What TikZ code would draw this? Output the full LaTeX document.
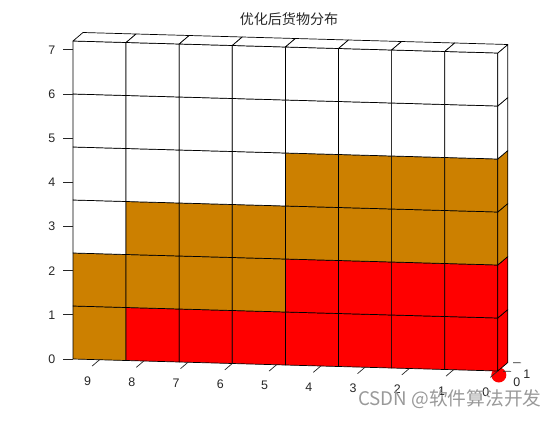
\documentclass[tikz,border=0pt]{standalone}
\usepackage{fontspec}
\setmainfont{Liberation Sans}
\newfontfamily\cjk{Noto Sans CJK SC}
\definecolor{cellr}{RGB}{255,0,0}
\definecolor{cellb}{RGB}{204,128,0}
\definecolor{cellw}{RGB}{255,255,255}
\begin{document}
\begin{tikzpicture}[x = {(1.593cm,-0.045cm)}, y = {(0.30cm,0.255cm)}, z = {(0cm,1.59cm)},
    line join = round,
    cell/.style = {draw = black, line width = 0.6pt},
    tick/.style = {draw = black!85, line width = 0.6pt},
    ticklabel/.style = {inner sep = 0pt, text = black!85, font = \fontsize{10.6}{12}\selectfont}]
            \useasboundingbox (-2.19cm,-1.83cm) rectangle (14.61cm,10.77cm);
            \fill[cellr] (8,0,0) ++(0.03cm,-0.12cm) circle[radius = 0.225cm];
            \foreach \j/\row in {0/{b,r,r,r,r,r,r,r}, 1/{b,b,b,b,r,r,r,r}, 2/{w,b,b,b,b,b,b,b},
                                 3/{w,w,w,w,b,b,b,b}, 4/{w,w,w,w,w,w,w,w}, 5/{w,w,w,w,w,w,w,w}} {
                \foreach \c [count = \i from 0] in \row {
                    \filldraw[cell, fill = cell\c] (\i,0,\j) -- (\i+1,0,\j) -- (\i+1,0,\j+1) -- (\i,0,\j+1) -- cycle;
                    \ifnum\i=7
                        \filldraw[cell, fill = cell\c] (8,0,\j) -- (8,1,\j) -- (8,1,\j+1) -- (8,0,\j+1) -- cycle;
                    \fi
                    \ifnum\j=5
                        \filldraw[cell, fill = cell\c] (\i,0,6) -- (\i+1,0,6) -- (\i+1,1,6) -- (\i,1,6) -- cycle;
                    \fi
                }
            }
            \begin{scope}[every node/.append style = {ticklabel}]
                \foreach \u in {0, 1, ..., 9} {
                    \draw[tick] ({0.5+(9-\u)/1.2},0,0) -- ++(0,-0.75,0);
                    \node[shift = {(-0.36cm,-0.63cm)}] (xt\u) at ({0.5+(9-\u)/1.2},0,0) {\u};
                }
                \foreach \k in {0, 1, ..., 7} {
                    \draw[tick] (0,0,\k/1.2) -- ++(-0.3cm,0);
                    \node[anchor = east, xshift = -0.525cm] (zt\k) at (0,0,\k/1.2) {\k};
                }
                \foreach \k in {0, 1} {
                    \draw[tick] (8.1,\k,0) -- (8.25,\k,0);
                    \node[shift = {(0.57cm,-0.345cm)}] (yt\k) at (8,\k,0) {\k};
                }
            \end{scope}
            \node[font = \cjk\fontsize{12}{14}\selectfont, text = black!85] (title) at (6.48cm,10.185cm) {优化后货物分布};
            \node[font = \cjk\fontsize{16}{18}\selectfont, text = black!40] (mark) at (11.31cm,-1.2cm) {CSDN @软件算法开发};
        \end{tikzpicture}
\end{document}
